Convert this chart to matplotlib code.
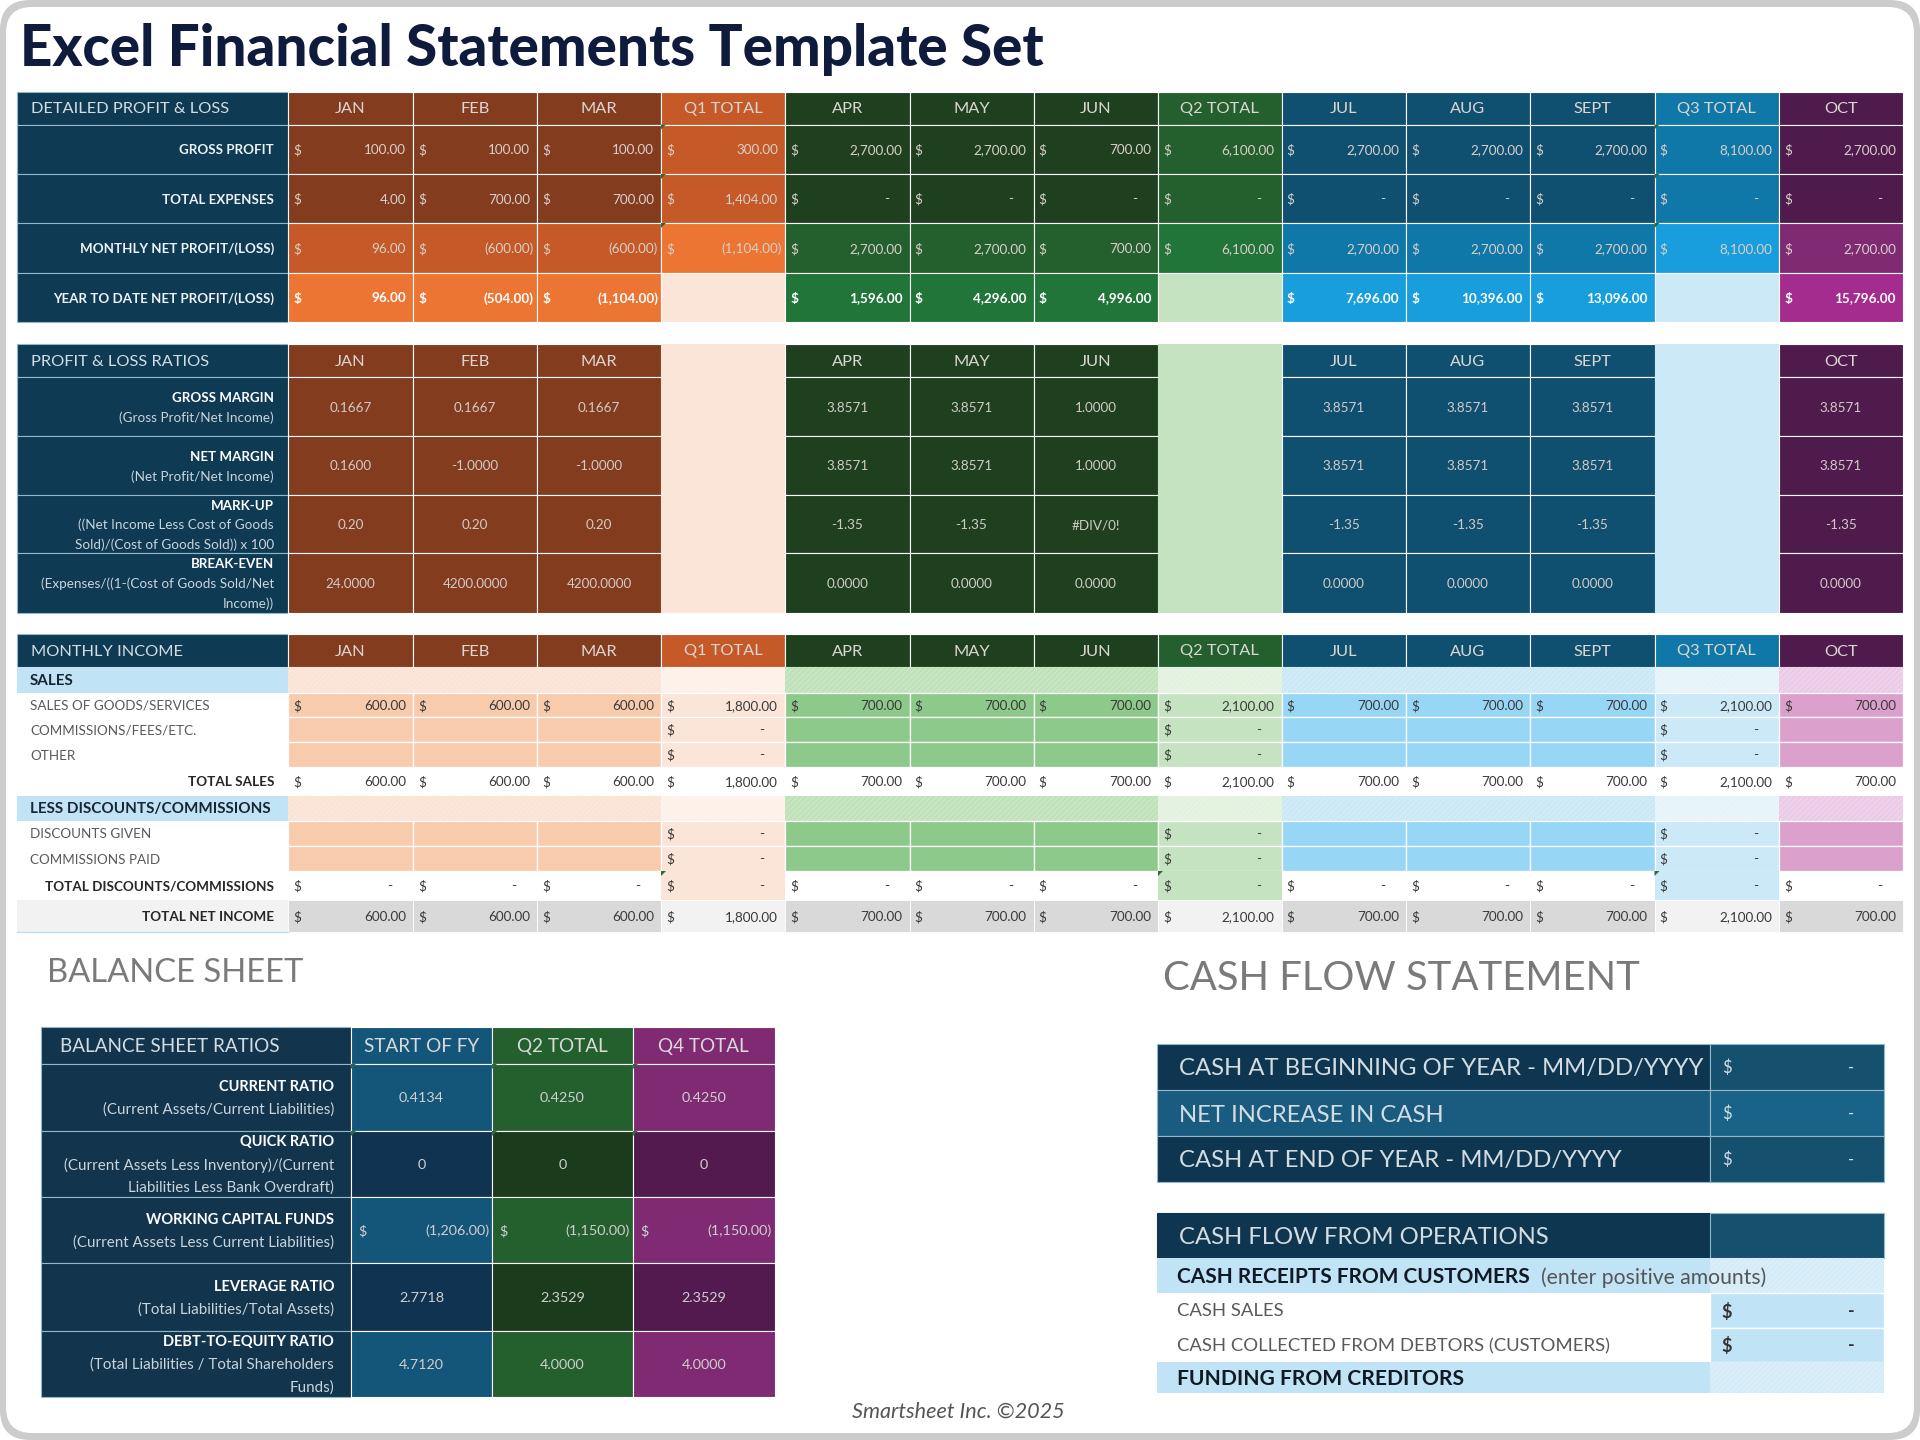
import matplotlib
matplotlib.use("Agg")
import matplotlib.pyplot as plt
from matplotlib.patches import Rectangle, FancyBboxPatch, Polygon

plt.rcParams['font.family'] = ['Lato', 'DejaVu Sans']
plt.rcParams['hatch.linewidth'] = 0.4

# ---- data ----
columns = ["JAN", "FEB", "MAR", "Q1 TOTAL", "APR", "MAY", "JUN", "Q2 TOTAL", "JUL", "AUG", "SEPT", "Q3 TOTAL", "OCT"]
ratio_columns = ["JAN", "FEB", "MAR", None, "APR", "MAY", "JUN", None, "JUL", "AUG", "SEPT", None, "OCT"]

gross_profit = ["100.00", "100.00", "100.00", "300.00", "2,700.00", "2,700.00", "700.00", "6,100.00", "2,700.00", "2,700.00", "2,700.00", "8,100.00", "2,700.00"]
total_expenses = ["4.00", "700.00", "700.00", "1,404.00", "-", "-", "-", "-", "-", "-", "-", "-", "-"]
monthly_net = ["96.00", "(600.00)", "(600.00)", "(1,104.00)", "2,700.00", "2,700.00", "700.00", "6,100.00", "2,700.00", "2,700.00", "2,700.00", "8,100.00", "2,700.00"]
ytd_net = ["96.00", "(504.00)", "(1,104.00)", None, "1,596.00", "4,296.00", "4,996.00", None, "7,696.00", "10,396.00", "13,096.00", None, "15,796.00"]

gross_margin = ["0.1667", "0.1667", "0.1667", None, "3.8571", "3.8571", "1.0000", None, "3.8571", "3.8571", "3.8571", None, "3.8571"]
net_margin = ["0.1600", "-1.0000", "-1.0000", None, "3.8571", "3.8571", "1.0000", None, "3.8571", "3.8571", "3.8571", None, "3.8571"]
mark_up = ["0.20", "0.20", "0.20", None, "-1.35", "-1.35", "#DIV/0!", None, "-1.35", "-1.35", "-1.35", None, "-1.35"]
break_even = ["24.0000", "4200.0000", "4200.0000", None, "0.0000", "0.0000", "0.0000", None, "0.0000", "0.0000", "0.0000", None, "0.0000"]

sales_goods = ["600.00", "600.00", "600.00", "1,800.00", "700.00", "700.00", "700.00", "2,100.00", "700.00", "700.00", "700.00", "2,100.00", "700.00"]
q_only_dash = [None, None, None, "-", None, None, None, "-", None, None, None, "-", None]
total_sales = list(sales_goods)
total_discounts = ["-"] * 13
total_net_income = list(sales_goods)

bs_columns = ["START OF FY", "Q2 TOTAL", "Q4 TOTAL"]
bs_rows = [
    (["CURRENT RATIO", "(Current Assets/Current Liabilities)"], ["0.4134", "0.4250", "0.4250"]),
    (["QUICK RATIO", "(Current Assets Less Inventory)/(Current", "Liabilities Less Bank Overdraft)"], ["0", "0", "0"]),
    (["WORKING CAPITAL FUNDS", "(Current Assets Less Current Liabilities)"], ["(1,206.00)", "(1,150.00)", "(1,150.00)"]),
    (["LEVERAGE RATIO", "(Total Liabilities/Total Assets)"], ["2.7718", "2.3529", "2.3529"]),
    (["DEBT-TO-EQUITY RATIO", "(Total Liabilities / Total Shareholders", "Funds)"], ["4.7120", "4.0000", "4.0000"]),
]
cash_rows = ["CASH AT BEGINNING OF YEAR - MM/DD/YYYY", "NET INCREASE IN CASH", "CASH AT END OF YEAR - MM/DD/YYYY"]

# ---- layout (pixels) ----
col_x = [288, 413, 537, 661, 785, 909.5, 1033.5, 1158, 1281.5, 1406, 1530, 1654.5, 1779, 1903]
label_x = 17
bs_x = [41, 351, 492, 633, 774.5]
bs_y = [1027, 1064, 1131, 1197, 1263, 1331, 1397]
cf_x = [1157, 1710, 1884]

# ---- colours ----
navy = "#0F3A54"
navy_dark = "#12344D"
sky = "#C0E4F6"
line_navy = "#8FB9CB"
head_text = "#D3DCE1"
palette = {
    "orange": dict(dark="#843C1E", mid="#C55A28", bright="#ED7533", pale="#FBE5D8", entry="#F8CBAD", sec="#FBE3D6", sec_q="#FDF1E9"),
    "green": dict(dark="#1E401F", mid="#24602E", bright="#217539", pale="#C6E3C1", entry="#8DC98A", sec="#BFE2BA", sec_q="#E3F1DF"),
    "blue": dict(dark="#0F5070", mid="#0F78A8", bright="#189EDC", pale="#CBE9F6", entry="#97D6F5", sec="#CBE8F6", sec_q="#E6F4FA"),
    "purple": dict(dark="#4F1A4C", mid="#7F2A73", bright="#A32C8E", pale="#E8C8E4", entry="#DBA0CC", sec="#EBCBE8", sec_q="#EBCBE8"),
}
col_group = ["orange"] * 4 + ["green"] * 4 + ["blue"] * 4 + ["purple"]
q_cols = (3, 7, 11)

fig = plt.figure(figsize=(19.2, 14.4), dpi=100)
ax = fig.add_axes([0, 0, 1, 1])
ax.set_xlim(0, 1920)
ax.set_ylim(1440, 0)
ax.axis("off")


def box(x0, y0, x1, y1, color, edge="white", lw=0.8, hatch=False, z=2):
    ax.add_patch(Rectangle((x0, y0), x1 - x0, y1 - y0, facecolor=color, edgecolor=edge if edge else color, linewidth=lw, zorder=z))
    if hatch:
        ax.add_patch(Rectangle((x0, y0), x1 - x0, y1 - y0, fill=False, hatch="//////", edgecolor=(1, 1, 1, 0.4), linewidth=0, zorder=z + 0.1))


def txt(x, y, s, size, color="white", ha="center", weight="normal", **kw):
    # +1: lato sits a little higher in the cell than the original font
    ax.text(x, y + 1, s, fontsize=size, color=color, ha=ha, va="center", fontweight=weight, zorder=5, **kw)


def money(x0, x1, y, value, color, size=9.7, weight="normal"):
    # excel accounting layout: $ on the left, number on the right
    txt(x0 + 9, y, "$", size, color, weight=weight)
    if value == "-":
        txt(x1 - 23, y, "-", size, color, weight=weight)
    elif value.startswith("("):
        txt(x1 - 3, y, value, size, color, ha="right", weight=weight)
    else:
        txt(x1 - 7, y, value, size, color, ha="right", weight=weight)


def corner_mark(x, y):
    ax.add_patch(Polygon([(x, y), (x + 5, y), (x, y + 5)], closed=True, facecolor="#2F6B3A", edgecolor="none", zorder=4))


def label_lines(x, y0, y1, lines, size_b, size_r, gap, color="white"):
    mid = (y0 + y1) / 2
    n = len(lines)
    for k, s in enumerate(lines):
        y = mid + (k - (n - 1) / 2) * gap
        if k == 0:
            txt(x, y, s, size_b, color, ha="right", weight="bold")
        else:
            txt(x, y, s, size_r, "#C9D4DB", ha="right")


def header_row(y0, y1, title, heads, q_fallback="pale"):
    box(label_x, y0, col_x[0], y1, navy, edge=line_navy, lw=0.8)
    txt(label_x + 14, (y0 + y1) / 2, title, 11.8, head_text, ha="left")
    for i, h in enumerate(heads):
        pal = palette[col_group[i]]
        if h is None:
            box(col_x[i], y0, col_x[i + 1], y1, pal[q_fallback], edge=None, lw=0)
            continue
        box(col_x[i], y0, col_x[i + 1], y1, pal["mid"] if i in q_cols else pal["dark"])
        txt((col_x[i] + col_x[i + 1]) / 2, (y0 + y1) / 2, h, 11.8, "#DCD6D2")


# ---- frame and title ----
ax.add_patch(FancyBboxPatch((12, 12), 1896, 1416, boxstyle="round,pad=12,rounding_size=30", facecolor="#CCCCCC", edgecolor="none", zorder=0))
ax.add_patch(FancyBboxPatch((26, 27), 1868, 1386, boxstyle="round,pad=20,rounding_size=26", facecolor="white", edgecolor="none", zorder=1))
txt(20, 49, "Excel Financial Statements Template Set", 40.7, "#0F1B3D", ha="left", weight="black")

# ---- detailed profit & loss ----
header_row(92, 124.5, "DETAILED PROFIT & LOSS", columns)
pl_y = [124.5, 174, 223, 273, 322]
pl_rows = [
    ("GROSS PROFIT", gross_profit, "dark", "mid"),
    ("TOTAL EXPENSES", total_expenses, "dark", "mid"),
    ("MONTHLY NET PROFIT/(LOSS)", monthly_net, "mid", "bright"),
    ("YEAR TO DATE NET PROFIT/(LOSS)", ytd_net, "bright", "pale"),
]
for r, (name, vals, lvl, lvl_q) in enumerate(pl_rows):
    y0, y1 = pl_y[r], pl_y[r + 1]
    ym = (y0 + y1) / 2
    box(label_x, y0, col_x[0], y1, navy, edge=line_navy)
    txt(274, ym, name, 9.6, "#EDF2F5", ha="right", weight="bold")
    for i, v in enumerate(vals):
        pal = palette[col_group[i]]
        box(col_x[i], y0, col_x[i + 1], y1, pal[lvl_q if i in q_cols else lvl])
        if v is not None:
            money(col_x[i], col_x[i + 1], ym, v, "#FFFFFF" if r == 3 else "#D9CFCA", weight="bold" if r == 3 else "normal")
        if i in (3, 11) and r < 3:
            corner_mark(col_x[i], y0)

# ---- profit & loss ratios ----
header_row(344, 377, "PROFIT & LOSS RATIOS", ratio_columns)
ratio_y = [377, 436, 495, 553, 613]
ratio_rows = [
    (["GROSS MARGIN", "(Gross Profit/Net Income)"], gross_margin),
    (["NET MARGIN", "(Net Profit/Net Income)"], net_margin),
    (["MARK-UP", "((Net Income Less Cost of Goods", "Sold)/(Cost of Goods Sold)) x 100"], mark_up),
    (["BREAK-EVEN", "(Expenses/((1-(Cost of Goods Sold/Net", "Income))"], break_even),
]
for r, (lines, vals) in enumerate(ratio_rows):
    y0, y1 = ratio_y[r], ratio_y[r + 1]
    box(label_x, y0, col_x[0], y1, navy, edge=line_navy)
    label_lines(274, y0, y1, lines, 9.6, 9.7, 19.5)
    for i, v in enumerate(vals):
        pal = palette[col_group[i]]
        if i in q_cols:
            box(col_x[i], y0, col_x[i + 1], y1, pal["pale"], edge=None, lw=0)
        else:
            box(col_x[i], y0, col_x[i + 1], y1, pal["dark"])
            txt((col_x[i] + col_x[i + 1]) / 2, (y0 + y1) / 2, v, 9.7, "#D2CAC6")

# ---- monthly income ----
header_row(634, 667, "MONTHLY INCOME", columns)
inc_y = [667, 693, 717, 742, 767, 796, 821, 846, 871, 900, 932]
inc_rows = [
    ("SALES", "section", None),
    ("SALES OF GOODS/SERVICES", "entry", sales_goods),
    ("COMMISSIONS/FEES/ETC.", "entry", q_only_dash),
    ("OTHER", "entry", q_only_dash),
    ("TOTAL SALES", "total", total_sales),
    ("LESS DISCOUNTS/COMMISSIONS", "section", None),
    ("DISCOUNTS GIVEN", "entry", q_only_dash),
    ("COMMISSIONS PAID", "entry", q_only_dash),
    ("TOTAL DISCOUNTS/COMMISSIONS", "total_q", total_discounts),
    ("TOTAL NET INCOME", "net", total_net_income),
]
for r, (name, kind, vals) in enumerate(inc_rows):
    y0, y1 = inc_y[r], inc_y[r + 1]
    ym = (y0 + y1) / 2
    if kind == "section":
        box(label_x, y0, col_x[0], y1, sky, edge=None, lw=0)
        txt(30, ym, name, 11, "#1A2530", ha="left", weight="bold")
    elif kind == "entry":
        txt(30, ym, name, 9.7, "#595959", ha="left")
    elif kind == "net":
        box(label_x, y0, col_x[0], y1, "#F2F2F2", edge=None, lw=0)
        ax.plot([label_x, col_x[0]], [y1, y1], color="#BFE0F0", lw=1, zorder=3)
        txt(274, ym, name, 9.7, "#262626", ha="right", weight="bold")
    else:
        txt(274, ym, name, 9.7, "#262626", ha="right", weight="bold")
    for i in range(13):
        pal = palette[col_group[i]]
        x0, x1 = col_x[i], col_x[i + 1]
        isq = i in q_cols
        if kind == "section":
            box(x0, y0, x1, y1, pal["sec_q" if isq else "sec"], edge=None, lw=0, hatch=True)
        elif kind == "entry":
            box(x0, y0, x1, y1, pal["pale" if isq else "entry"], lw=0.9)
        elif kind == "total_q" and isq:
            box(x0, y0, x1, y1, pal["pale"], edge=None, lw=0)
            corner_mark(x0, y0)
        elif kind == "net":
            box(x0, y0, x1, y1, "#F2F2F2" if isq else "#D9D9D9", lw=0.6)
        if vals is not None and vals[i] is not None:
            money(x0, x1, ym, vals[i], "#3A3A3A")

# ---- balance sheet ----
txt(47, 972, "BALANCE SHEET", 23.6, "#7A7A7A", ha="left")
bs_mid = ["#14557A", "#24602E", "#7F2A73"]
bs_dark = ["#0F3350", "#1B3B1D", "#521A4F"]
box(bs_x[0], bs_y[0], bs_x[1], bs_y[1], navy_dark, edge=line_navy)
txt(60, (bs_y[0] + bs_y[1]) / 2, "BALANCE SHEET RATIOS", 13.6, head_text, ha="left")
for c, head in enumerate(bs_columns):
    box(bs_x[c + 1], bs_y[0], bs_x[c + 2], bs_y[1], bs_mid[c])
    txt((bs_x[c + 1] + bs_x[c + 2]) / 2, (bs_y[0] + bs_y[1]) / 2, head, 13.6, "#DADADA")
for r, (lines, vals) in enumerate(bs_rows):
    y0, y1 = bs_y[r + 1], bs_y[r + 2]
    box(bs_x[0], y0, bs_x[1], y1, navy_dark, edge=line_navy)
    label_lines(334, y0, y1, lines, 10.5, 10.9, 22.5)
    for c, v in enumerate(vals):
        x0, x1 = bs_x[c + 1], bs_x[c + 2]
        box(x0, y0, x1, y1, bs_dark[c] if r in (1, 3) else bs_mid[c])
        if v.startswith("("):
            money(x0 + 2, x1, (y0 + y1) / 2, v, "#CFCFCF", size=10.4)
        else:
            txt((x0 + x1) / 2, (y0 + y1) / 2, v, 10.4, "#CFCFCF")
        if r < 2:
            corner_mark(x0, y0)

# ---- cash flow statement ----
txt(1163, 977, "CASH FLOW STATEMENT", 28.8, "#7A7A7A", ha="left")
cf_y = [1044, 1090, 1136, 1182]
cf_fill = ["#0F3650", "#1A5B80", "#0F3650"]
cf_fill2 = ["#15506F", "#1A6388", "#15506F"]
for r, name in enumerate(cash_rows):
    y0, y1 = cf_y[r], cf_y[r + 1]
    ym = (y0 + y1) / 2
    box(cf_x[0], y0, cf_x[1], y1, cf_fill[r], edge=line_navy)
    box(cf_x[1], y0, cf_x[2], y1, cf_fill2[r], edge=line_navy)
    txt(1179, ym + 1, name, 17.2, head_text, ha="left")
    txt(1727, ym, "$", 12, head_text)
    txt(1851, ym, "-", 12, head_text)

box(cf_x[0], 1213, cf_x[1], 1258, "#0F3650", edge="#0F3650")
box(cf_x[1], 1213, cf_x[2], 1258, "#15506F", edge=line_navy)
txt(1179, 1236.5, "CASH FLOW FROM OPERATIONS", 17.2, head_text, ha="left")

box(cf_x[0], 1258, cf_x[1], 1293, sky, edge=None, lw=0)
box(cf_x[1], 1258, cf_x[2], 1293, "#D5ECF8", edge=None, lw=0, hatch=True)
txt(1177, 1276, "CASH RECEIPTS FROM CUSTOMERS", 15, "#111A24", ha="left", weight="bold")
txt(1541, 1277, "(enter positive amounts)", 15.2, "#555555", ha="left")
for y0, y1, name in [(1293, 1328, "CASH SALES"), (1328, 1362, "CASH COLLECTED FROM DEBTORS (CUSTOMERS)")]:
    box(cf_x[1], y0, cf_x[2], y1, sky, lw=1)
    txt(1177, (y0 + y1) / 2, name, 13.3, "#595959", ha="left")
    txt(1727, (y0 + y1) / 2, "$", 13, "#333333", weight="bold")
    txt(1851, (y0 + y1) / 2, "-", 13, "#333333", weight="bold")
box(cf_x[0], 1362, cf_x[1], 1393, sky, edge=None, lw=0)
box(cf_x[1], 1362, cf_x[2], 1393, "#D5ECF8", edge=None, lw=0, hatch=True)
txt(1177, 1378, "FUNDING FROM CREDITORS", 15.1, "#111A24", ha="left", weight="bold")

txt(958, 1411, "Smartsheet Inc. ©2025", 15.6, "#555555", style="italic")

fig.savefig("out.png", dpi=100, facecolor="white")
